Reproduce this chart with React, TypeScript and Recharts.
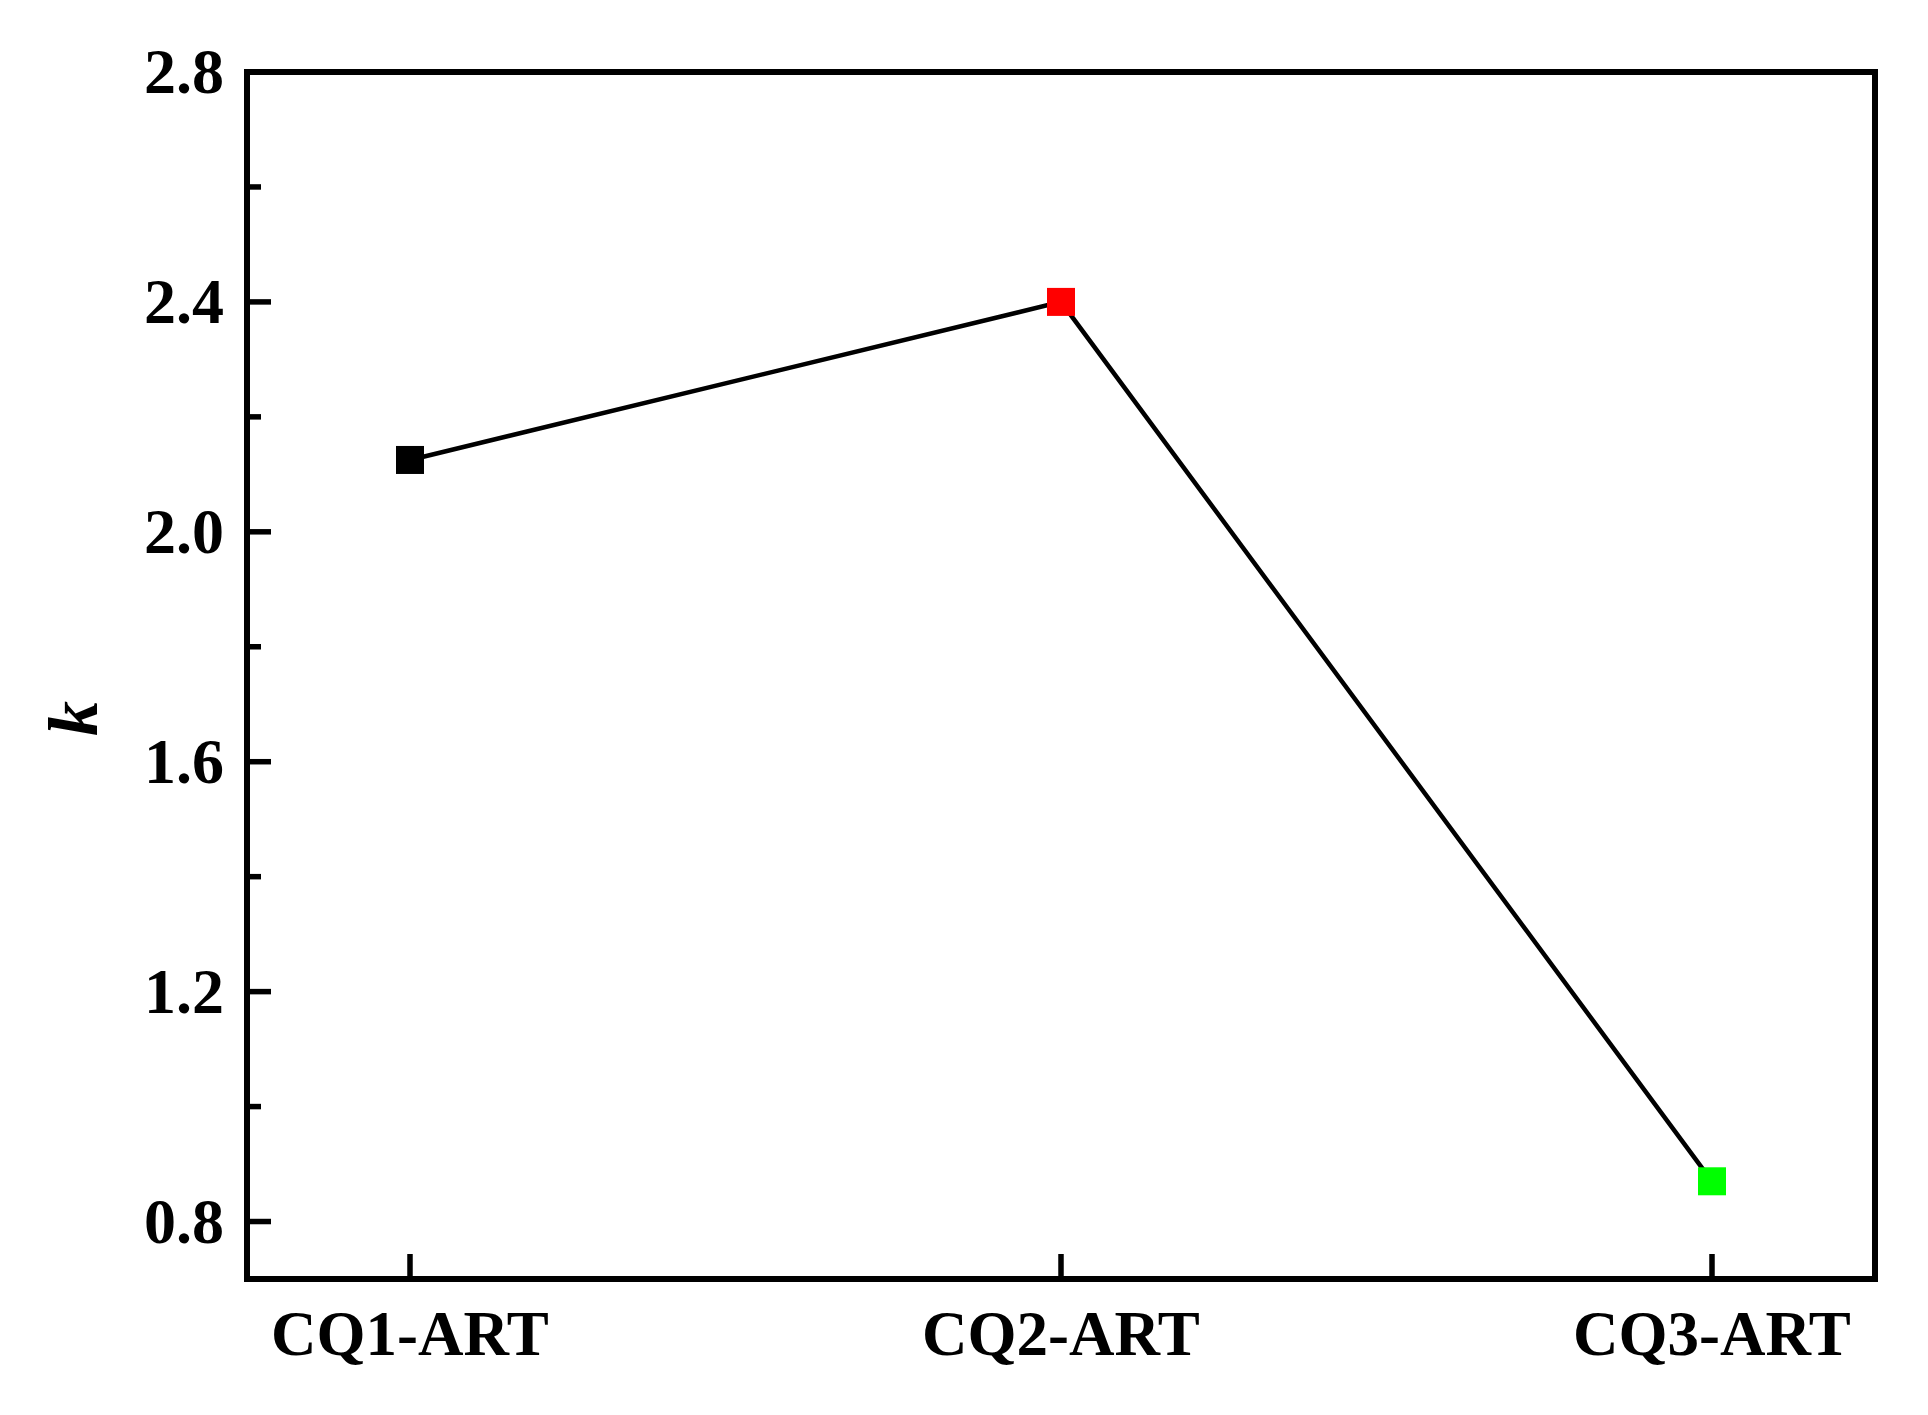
import React from 'react';
import { LineChart, Line, XAxis, YAxis } from 'recharts';

const categories = ['CQ1-ART', 'CQ2-ART', 'CQ3-ART'];
const kValues = [2.125, 2.4, 0.87];
const markerColors = ['#000000', '#ff0000', '#00ff00'];
const yTicks = [0.8, 1.0, 1.2, 1.4, 1.6, 1.8, 2.0, 2.2, 2.4, 2.6, 2.8];
const yMajorTicks = ['0.8', '1.2', '1.6', '2.0', '2.4', '2.8'];

const data = categories.map((c, i) => ({ name: c, k: kValues[i], color: markerColors[i] }));

const FONT = '"Liberation Serif", "Times New Roman", serif';
const AXIS_W = 6;
const TICK_W = 5.5;
const Y_MARGIN = 23;

const YTick = (props: any) => {
  const { x, y, payload } = props;
  const label = Number(payload.value).toFixed(1);
  const major = yMajorTicks.includes(label);
  const axisX = x + Y_MARGIN;
  return (
    <g>
      <line x1={axisX} x2={axisX + (major ? 24 : 14)} y1={y} y2={y} stroke="#000" strokeWidth={TICK_W} />
      {major && (
        <text x={x} y={y + 21} textAnchor="end" fontFamily={FONT} fontWeight="bold" fontSize={64} fill="#000">
          {label}
        </text>
      )}
    </g>
  );
};

const XTick = (props: any) => {
  const { x, y, payload } = props;
  return (
    <g>
      <line x1={x} x2={x} y1={y} y2={y - 25} stroke="#000" strokeWidth={TICK_W} />
      <text x={x} y={y + 76} textAnchor="middle" fontFamily={FONT} fontWeight="bold" fontSize={63} fill="#000">
        {payload.value}
      </text>
    </g>
  );
};

const SquareDot = (props: any) => {
  const { cx, cy, payload, index } = props;
  if (cx == null || cy == null) return null;
  const s = 28;
  return <rect key={`d${index}`} x={cx - s / 2} y={cy - s / 2} width={s} height={s} fill={payload.color} />;
};

const KLabel = (props: any) => {
  const vb = props.viewBox || { x: 0, y: 0, height: 0 };
  const cx = vb.x + 89;
  const cy = vb.y + vb.height / 2 + 43;
  return (
    <text
      x={cx}
      y={cy}
      transform={`rotate(-90 ${cx} ${cy})`}
      textAnchor="middle"
      fontFamily={FONT}
      fontWeight="bold"
      fontStyle="italic"
      fontSize={70}
      fill="#000"
    >
      k
    </text>
  );
};

const axisLineStyle = { stroke: '#000', strokeWidth: AXIS_W, strokeLinecap: 'square' as const };

export default function App() {
  return (
    <div style={{ width: 1920, height: 1400, background: '#fff' }}>
      <LineChart width={1920} height={1400} data={data} margin={{ top: 63, right: 52, bottom: 0, left: 0 }}>
        <XAxis
          dataKey="name"
          xAxisId="bottom"
          orientation="bottom"
          height={129}
          padding={{ left: 163, right: 163 }}
          stroke="#000"
          strokeWidth={AXIS_W}
          axisLine={axisLineStyle}
          tickLine={false}
          tickSize={0}
          tickMargin={0}
          tick={<XTick />}
          interval={0}
        />
        <XAxis
          dataKey="name"
          xAxisId="top"
          orientation="top"
          height={1}
          padding={{ left: 163, right: 163 }}
          stroke="#000"
          strokeWidth={AXIS_W}
          axisLine={axisLineStyle}
          tickLine={false}
          tick={false}
        />
        <YAxis
          yAxisId="left"
          width={239}
          domain={[0.7, 2.8]}
          ticks={yTicks}
          type="number"
          allowDataOverflow
          stroke="#000"
          strokeWidth={AXIS_W}
          axisLine={axisLineStyle}
          tickLine={false}
          tickSize={0}
          tickMargin={Y_MARGIN}
          tick={<YTick />}
          interval={0}
          label={<KLabel />}
        />
        <YAxis
          yAxisId="right"
          orientation="right"
          width={1}
          domain={[0.7, 2.8]}
          type="number"
          allowDataOverflow
          stroke="#000"
          strokeWidth={AXIS_W}
          axisLine={axisLineStyle}
          tickLine={false}
          tick={false}
        />
        <Line
          xAxisId="top"
          yAxisId="right"
          dataKey="k"
          type="linear"
          stroke="none"
          strokeWidth={0}
          dot={false}
          activeDot={false}
          legendType="none"
          isAnimationActive={false}
        />
        <Line
          xAxisId="bottom"
          yAxisId="left"
          dataKey="k"
          type="linear"
          stroke="#000"
          strokeWidth={4.5}
          dot={<SquareDot />}
          activeDot={false}
          isAnimationActive={false}
        />
      </LineChart>
    </div>
  );
}
